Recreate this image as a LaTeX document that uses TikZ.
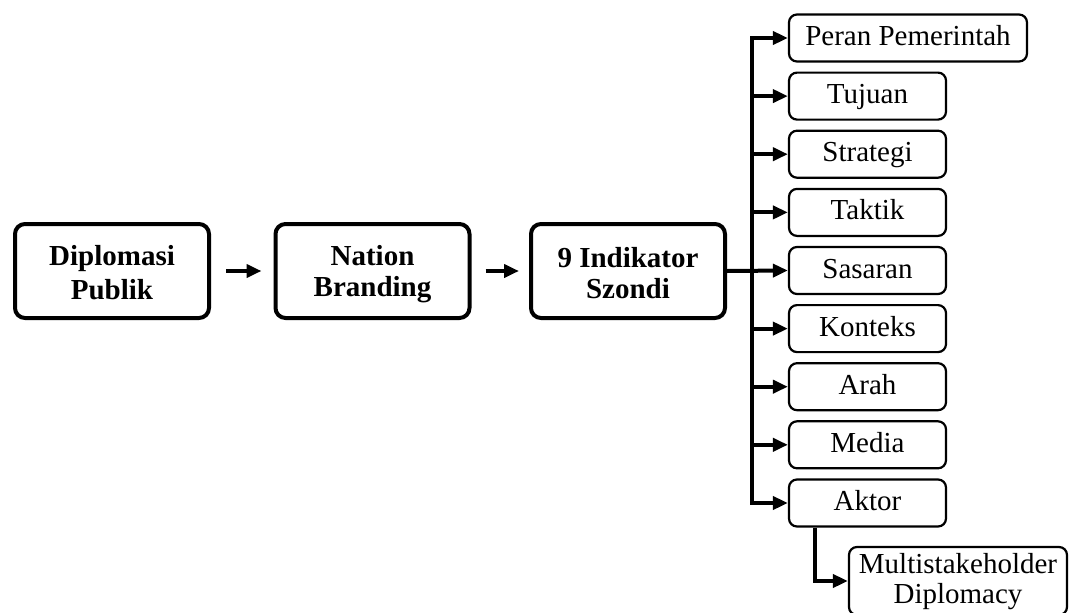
\documentclass[tikz,border=0pt]{standalone}
\usepackage{fontspec}
\setmainfont{Liberation Serif}
\usetikzlibrary{arrows.meta}
\newcommand\substrut{\rule[-0.23em]{0pt}{0.98em}}
\newcommand\mainstrut{\rule[-0.1em]{0pt}{1em}}
\begin{document}
\begin{tikzpicture}[x=1pt,y=-1pt,
  mainbox/.style={draw, line width=4pt, rounded corners=10pt, minimum width=194pt, minimum height=94pt, inner sep=0pt, align=center, font=\fontsize{29}{31}\selectfont\bfseries},
  subbox/.style={draw, line width=2.2pt, rounded corners=8pt, minimum width=157pt, minimum height=47pt, inner sep=0pt, align=center, font=\fontsize{29}{30}\selectfont},
  arr/.style={line width=4pt, -{Triangle[length=15pt,width=13pt]}},
  ln/.style={line width=4pt}]
\useasboundingbox (0,0) rectangle (1069,613);
\node[mainbox] (dp) at (112,271) {\mainstrut Diplomasi\\\mainstrut Publik};
\node[mainbox] (nb) at (372.5,271) {\mainstrut Nation\\\mainstrut Branding};
\node[mainbox] (si) at (628,271) {\mainstrut 9 Indikator\\\mainstrut Szondi};
\node[subbox, minimum width=238pt] (peran) at (908,38) {\substrut Peran Pemerintah};
\node[subbox] (tujuan) at (867.5,96.1) {\substrut Tujuan};
\node[subbox] (strategi) at (867.5,154.2) {\substrut Strategi};
\node[subbox] (taktik) at (867.5,212.4) {\substrut Taktik};
\node[subbox] (sasaran) at (867.5,270.5) {\substrut Sasaran};
\node[subbox] (konteks) at (867.5,328.6) {\substrut Konteks};
\node[subbox] (arah) at (867.5,386.7) {\substrut Arah};
\node[subbox] (media) at (867.5,444.8) {\substrut Media};
\node[subbox] (aktor) at (867.5,503) {\substrut Aktor};
\node[subbox, minimum width=218pt, minimum height=68pt] (multi) at (958,581) {\substrut Multistakeholder\\\substrut Diplomacy};
\coordinate (ttop) at (751.5,38);
\coordinate (tbot) at (751.5,503);
\coordinate (abr) at (815,503);
\draw[arr, shorten <=15pt, shorten >=12pt] (dp) -- (nb);
\draw[arr, shorten <=14pt, shorten >=10pt] (nb) -- (si);
\draw[ln, line cap=rect] (ttop) -- (tbot);
\draw[arr] (si.east) -- (sasaran.west);
\foreach \n in {peran,tujuan,strategi,taktik,konteks,arah,media,aktor}
  \draw[arr] (ttop |- \n.west) -- (\n.west);
\draw[arr] (abr |- aktor.south) |- (multi.west);
\end{tikzpicture}
\end{document}
